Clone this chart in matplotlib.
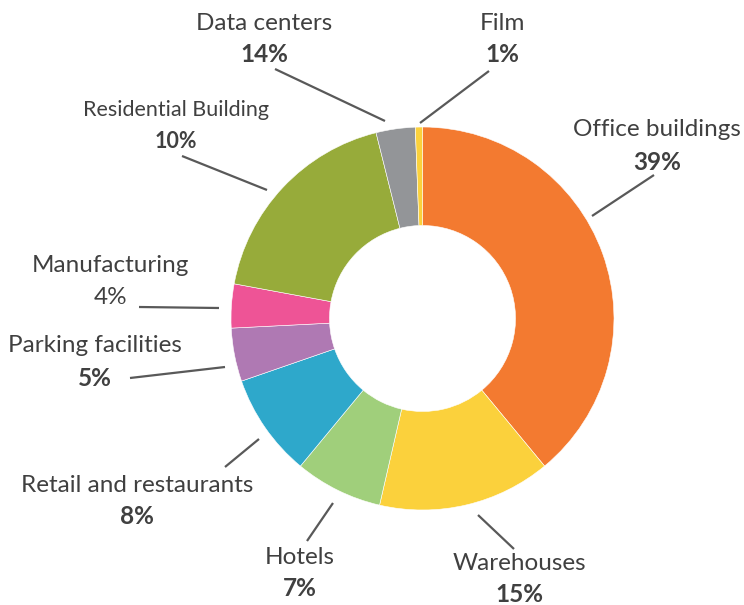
import matplotlib
matplotlib.use("Agg")
import matplotlib.pyplot as plt

# slice sizes as drawn (clockwise from 12 o'clock)
categories = ["Office buildings", "Warehouses", "Hotels", "Retail and restaurants",
              "Parking facilities", "Manufacturing", "Residential Building",
              "Data centers", "Film"]
values = [39.0, 14.6, 7.4, 8.7, 4.5, 3.7, 18.2, 3.3, 0.6]
# percentages printed on the labels
pct_labels = ["39%", "15%", "7%", "8%", "5%", "4%", "10%", "14%", "1%"]
colors = ["#F37A30", "#FBD13C", "#A0CF7B", "#2EA8CB", "#AF79B3",
          "#EE5496", "#97AB3A", "#939598", "#FBD13C"]

W, H = 744, 605
TXT = "#404040"
LINE = "#595959"

# layout in pixel coords (x, y from top): label centre, leader line start/end
layout = {
    "Office buildings":       ((657, 130), (592, 216), (654, 175)),
    "Warehouses":             ((519, 563), (478, 515), (514, 549)),
    "Hotels":                 ((300, 557), (333, 503), (307, 541)),
    "Retail and restaurants": ((137, 485), (259, 439), (225, 467)),
    "Parking facilities":     ((95, 346),  (225, 367), (130, 378)),
    "Manufacturing":          ((110, 266), (219, 308), (139, 307)),
    "Residential Building":   ((176, 110), (267, 190), (182, 156)),
    "Data centers":           ((264, 23),  (385, 121), (275, 69)),
    "Film":                   ((502, 23),  (420, 123), (489, 71)),
}

plt.rcParams['font.family'] = ['Lato', 'DejaVu Sans']

fig = plt.figure(figsize=(W / 100, H / 100), dpi=100)
ax = fig.add_axes([0, 0, 1, 1])

cx, cy, r_out, r_in = 422.5, H - 318.5, 191.5, 93
ax.pie(values, colors=colors, startangle=90, counterclock=False,
       radius=r_out, center=(cx, cy),
       wedgeprops=dict(width=r_out - r_in, edgecolor="white", linewidth=0.4))

for name, pct in zip(categories, pct_labels):
    (tx, ty), (x0, y0), (x1, y1) = layout[name]
    small = name == "Residential Building"
    fs = 15.5 if small else 17.5
    gap = 32
    ax.plot([x0, x1], [H - y0, H - y1], color=LINE, lw=1.6,
            solid_capstyle="butt")
    ax.text(tx, H - ty, name, ha="center", va="center", fontsize=fs,
            color=TXT)
    ax.text(tx + (1 if name == "Manufacturing" else 0), H - ty - gap, pct,
            ha="center", va="center", fontsize=fs, color=TXT,
            fontweight="normal" if name == "Manufacturing" else "bold")

ax.set_xlim(0, W)
ax.set_ylim(0, H)
ax.set_aspect("equal")
ax.axis("off")

fig.savefig("out.png", dpi=100)
